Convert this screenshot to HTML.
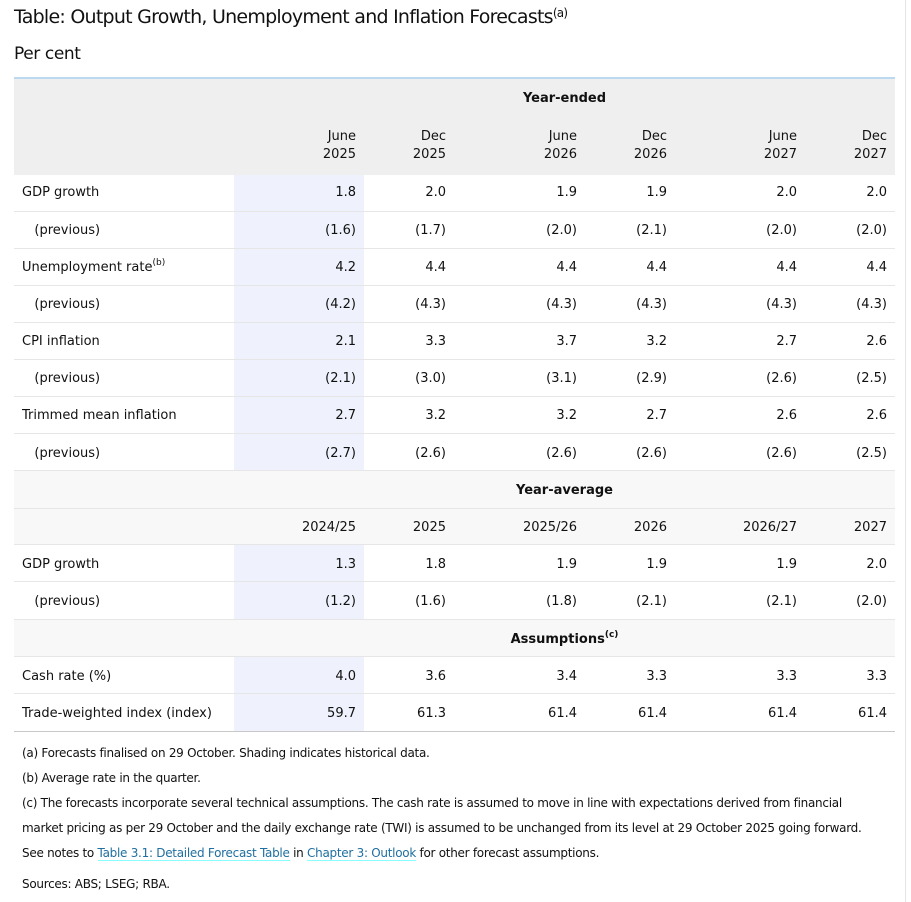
<!DOCTYPE html><html><head><meta charset="utf-8"><style>
body{margin:0;width:911px;height:902px;background:#fff;font-family:"DejaVu Sans",Verdana,sans-serif;color:#111;position:relative;overflow:hidden}
.a{position:absolute;white-space:nowrap}
.r{position:absolute;text-align:right;font-size:13px;line-height:16px}
.l{position:absolute;font-size:13px;line-height:16px;left:22px;white-space:nowrap}
.bx{position:absolute}
.ln{position:absolute;left:14px;width:881px;height:1px;background:#e6e6e6}
.n{position:absolute;left:22px;font-size:12px;white-space:nowrap;letter-spacing:-0.28px}
a{color:#1f6fa0;text-decoration:none;border-bottom:1px solid #8ff}
sup{position:relative;top:-6px;vertical-align:baseline;line-height:0}
</style></head><body>
<div class="a" style="left:14px;top:6px;font-size:19px;letter-spacing:-0.75px">Table: Output Growth, Unemployment and Inflation Forecasts<sup style="font-size:12px">(a)</sup></div>
<div class="a" style="left:14px;top:44px;font-size:17px;letter-spacing:-0.4px">Per cent</div>
<div class="bx" style="left:14px;top:77px;width:881px;height:2px;background:#bcd9f2"></div>
<div class="bx" style="left:14px;top:79px;width:881px;height:96px;background:#efefef"></div>
<div class="bx" style="left:14px;top:471px;width:881px;height:74px;background:#f8f8f8"></div>
<div class="bx" style="left:14px;top:620px;width:881px;height:37px;background:#f8f8f8"></div>
<div class="bx" style="left:234px;top:175px;width:130px;height:296px;background:#eff2fc"></div>
<div class="bx" style="left:234px;top:545px;width:130px;height:75px;background:#eff2fc"></div>
<div class="bx" style="left:234px;top:657px;width:130px;height:74px;background:#eff2fc"></div>
<div class="ln" style="top:211px"></div><div class="ln" style="top:248px"></div><div class="ln" style="top:285px"></div><div class="ln" style="top:322px"></div><div class="ln" style="top:359px"></div><div class="ln" style="top:396px"></div><div class="ln" style="top:433px"></div><div class="ln" style="top:470px"></div><div class="ln" style="top:508px"></div><div class="ln" style="top:544px"></div><div class="ln" style="top:581px"></div><div class="ln" style="top:619px"></div><div class="ln" style="top:656px"></div><div class="ln" style="top:693px"></div>
<div class="ln" style="top:731px;background:#c8c8c8"></div>
<div class="bx" style="left:905px;top:0;width:1px;height:902px;background:#e4e4e4"></div>
<div class="a" style="left:234px;width:661px;text-align:center;top:91px;font-size:13px;font-weight:bold">Year-ended</div>
<div class="a" style="left:234px;width:661px;text-align:center;top:483px;font-size:13px;font-weight:bold">Year-average</div>
<div class="a" style="left:234px;width:661px;text-align:center;top:632px;font-size:13px;font-weight:bold">Assumptions<sup style="font-size:9px">(c)</sup></div>
<div id="t"></div>
<script>
var R=[356,446,577,667,797,887];
var rows=[
[128,["June<br>2025","Dec<br>2025","June<br>2026","Dec<br>2026","June<br>2027","Dec<br>2027"],""],
[185,["1.8","2.0","1.9","1.9","2.0","2.0"],"GDP growth"],
[223,["(1.6)","(1.7)","(2.0)","(2.1)","(2.0)","(2.0)"],"&nbsp;&nbsp;&nbsp;(previous)"],
[260,["4.2","4.4","4.4","4.4","4.4","4.4"],"Unemployment rate<sup style='font-size:9px'>(b)</sup>"],
[297,["(4.2)","(4.3)","(4.3)","(4.3)","(4.3)","(4.3)"],"&nbsp;&nbsp;&nbsp;(previous)"],
[334,["2.1","3.3","3.7","3.2","2.7","2.6"],"CPI inflation"],
[371,["(2.1)","(3.0)","(3.1)","(2.9)","(2.6)","(2.5)"],"&nbsp;&nbsp;&nbsp;(previous)"],
[408,["2.7","3.2","3.2","2.7","2.6","2.6"],"Trimmed mean inflation"],
[446,["(2.7)","(2.6)","(2.6)","(2.6)","(2.6)","(2.5)"],"&nbsp;&nbsp;&nbsp;(previous)"],
[520,["2024/25","2025","2025/26","2026","2026/27","2027"],""],
[557,["1.3","1.8","1.9","1.9","1.9","2.0"],"GDP growth"],
[594,["(1.2)","(1.6)","(1.8)","(2.1)","(2.1)","(2.0)"],"&nbsp;&nbsp;&nbsp;(previous)"],
[669,["4.0","3.6","3.4","3.3","3.3","3.3"],"Cash rate (%)"],
[706,["59.7","61.3","61.4","61.4","61.4","61.4"],"Trade-weighted index (index)"]];
var h="";rows.forEach(function(r){var lh=r[0]==128?"18px":"16px";
if(r[2])h+='<div class="l" style="top:'+r[0]+'px">'+r[2]+'</div>';
r[1].forEach(function(v,i){h+='<div class="r" style="top:'+r[0]+'px;left:'+(R[i]-100)+'px;width:100px;line-height:'+lh+'">'+v+'</div>';});});
document.getElementById('t').innerHTML=h;
</script>
<div class="n" style="top:746px">(a) Forecasts finalised on 29 October. Shading indicates historical data.</div>
<div class="n" style="top:771px">(b) Average rate in the quarter.</div>
<div class="n" style="top:796px">(c) The forecasts incorporate several technical assumptions. The cash rate is assumed to move in line with expectations derived from financial</div>
<div class="n" style="top:821px">market pricing as per 29 October and the daily exchange rate (TWI) is assumed to be unchanged from its level at 29 October 2025 going forward.</div>
<div class="n" style="top:846px">See notes to <a>Table 3.1: Detailed Forecast Table</a> in <a>Chapter 3: Outlook</a> for other forecast assumptions.</div>
<div class="n" style="top:877px">Sources: ABS; LSEG; RBA.</div>
</body></html>
